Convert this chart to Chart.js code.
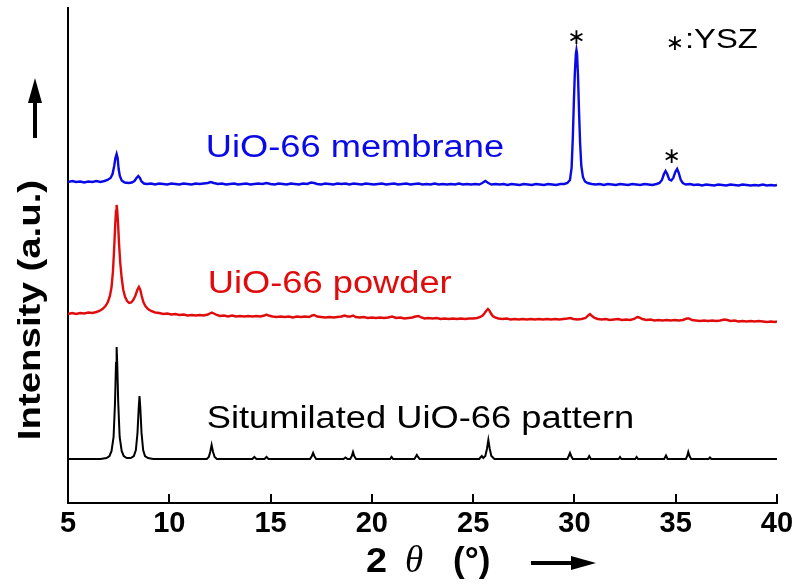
<!DOCTYPE html>
<html>
<head>
<meta charset="utf-8">
<script src="https://cdn.jsdelivr.net/npm/chart.js@4.4.0/dist/chart.umd.min.js"></script>
<style>
  html, body { margin: 0; padding: 0; background: #fff; }
  canvas { display: block; }
</style>
</head>
<body>
<canvas id="xrd" width="808" height="586"></canvas>
<script>
// 2θ axis tick values (degrees)
const twoThetaTicks = [5, 10, 15, 20, 25, 30, 35, 40];

// UiO-66 membrane on YSZ support: [2θ, intensity a.u.]
const membrane = [
  [5.0,321],[5.2,322],[5.4,321],[5.6,321.5],[5.8,320.5],[6.0,321.5],[6.2,321],[6.4,322],[6.6,321],[6.8,322],
  [6.95,323],[7.1,325],[7.2,329],[7.28,337],[7.34,345],[7.4,349],[7.45,345],[7.5,334],[7.56,327],[7.65,322.5],
  [7.8,320.5],[8.0,320],[8.15,320.5],[8.28,322],[8.38,325],[8.47,327],[8.55,325],[8.63,321.5],[8.75,319.5],[8.9,319],
  [9.1,319.5],[9.3,318.5],[9.5,319.5],[9.7,319],[9.9,318.5],[10.1,319.5],[10.3,319],[10.5,318.5],[10.7,319.5],[10.9,319],
  [11.1,318.5],[11.3,319.5],[11.5,319],[11.7,319.5],[11.9,320],[12.05,321],[12.2,320],[12.4,319],[12.6,319.5],[12.8,318.5],
  [13.0,319],[13.2,319.5],[13.4,318.5],[13.6,319],[13.8,319.5],[14.0,318.5],[14.2,319],[14.4,319.5],[14.6,319],[14.8,320],
  [15.0,319],[15.2,318.5],[15.4,319.5],[15.6,319],[15.8,318.5],[16.0,319.5],[16.2,319],[16.4,318.5],[16.6,319.5],[16.8,319],
  [17.0,320.5],[17.15,320],[17.3,319],[17.5,318.5],[17.7,319.5],[17.9,319],[18.1,318.5],[18.3,319.5],[18.5,319],[18.7,319.5],
  [18.9,318.5],[19.1,319.5],[19.3,319],[19.5,318.5],[19.7,319.5],[19.9,319],[20.1,318.5],[20.3,319],[20.5,319.5],[20.7,318.5],
  [20.9,319],[21.1,319.5],[21.3,318.5],[21.5,319],[21.7,319.5],[21.9,318.5],[22.1,319],[22.3,319.5],[22.5,318.5],[22.7,319],
  [22.9,318.5],[23.1,319.5],[23.3,318.5],[23.5,319],[23.7,318.5],[23.9,319],[24.1,318.5],[24.3,319.5],[24.5,318.5],[24.7,319],
  [24.9,318.5],[25.1,319],[25.3,318.5],[25.45,320],[25.6,322],[25.75,320],[25.9,318.5],[26.1,319],[26.3,318.5],[26.5,319],
  [26.7,318],[26.9,319],[27.1,318.5],[27.3,318],[27.5,319],[27.7,318.5],[27.9,318],[28.1,319],[28.3,318.5],[28.5,318],
  [28.7,319],[28.9,318.5],[29.1,318],[29.3,319],[29.5,319],[29.65,320],[29.78,323],[29.86,335],[29.92,365],[29.97,400],
  [30.02,430],[30.07,449],[30.1,453],[30.13,449],[30.18,425],[30.23,390],[30.28,360],[30.34,337],[30.42,326],[30.52,321.5],
  [30.65,320],[30.85,319],[31.05,318.5],[31.25,319],[31.45,318],[31.65,319],[31.85,318.5],[32.05,318],[32.25,319],[32.45,318.5],
  [32.65,318],[32.85,319],[33.05,318.5],[33.25,318],[33.45,319],[33.65,318.5],[33.85,318],[34.05,319],[34.2,320],[34.32,323],
  [34.42,329],[34.5,332],[34.58,329],[34.68,323.5],[34.78,322.5],[34.88,325],[34.98,331],[35.07,334],[35.15,330],[35.25,323],
  [35.35,320],[35.5,318.5],[35.7,319],[35.9,318],[36.1,318.5],[36.3,317.5],[36.5,318.5],[36.7,318],[36.9,317.5],[37.1,318.5],
  [37.3,318],[37.5,317.5],[37.7,318.5],[37.9,318],[38.1,317.5],[38.3,318.5],[38.5,318],[38.7,317.5],[38.9,318],[39.1,317.5],
  [39.3,318.5],[39.5,317.5],[39.7,318],[39.9,317.5],[40.0,318]
];

// UiO-66 powder: [2θ, intensity a.u.]
const powder = [
  [5.0,189],[5.2,190],[5.4,189],[5.6,190],[5.8,189.5],[6.0,190.5],[6.2,190],[6.4,191],[6.55,192],[6.7,194],
  [6.85,197],[6.97,201],[7.07,207],[7.15,216],[7.22,232],[7.28,255],[7.33,278],[7.37,292],[7.4,298],[7.43,293],
  [7.47,280],[7.52,259],[7.58,240],[7.65,225],[7.73,213],[7.82,206],[7.92,202],[8.02,200],[8.12,200.5],[8.22,203],
  [8.32,207],[8.42,213],[8.5,216],[8.57,213],[8.64,207],[8.72,201],[8.82,197],[8.95,194],[9.1,192],[9.3,190.5],
  [9.5,190],[9.7,189],[9.9,189.5],[10.1,188.5],[10.3,189],[10.5,188],[10.7,188.5],[10.9,187.5],[11.1,188],[11.3,187.5],
  [11.5,188],[11.7,187.5],[11.9,188.5],[12.0,189.5],[12.1,190.5],[12.2,189.5],[12.35,188],[12.5,187],[12.7,187.5],[12.9,186.5],
  [13.1,187.5],[13.3,186.5],[13.5,187],[13.7,186.5],[13.9,187],[14.1,186.5],[14.3,187],[14.5,186.5],[14.7,187.5],[14.8,188.5],
  [14.9,187.5],[15.1,186.5],[15.3,186],[15.5,186.5],[15.7,186],[15.9,186.5],[16.1,185.5],[16.3,186.5],[16.5,186],[16.7,186.5],
  [16.9,186],[17.05,187.5],[17.15,188],[17.3,186.5],[17.5,186],[17.7,185.5],[17.9,186],[18.1,185.5],[18.3,186],[18.5,186.5],
  [18.65,187.5],[18.8,186.5],[18.95,186.5],[19.07,187.5],[19.2,186],[19.4,185.5],[19.6,186],[19.8,185],[20.0,185.5],[20.2,185],
  [20.4,185.5],[20.6,185],[20.8,185.5],[21.0,186.5],[21.2,185],[21.4,185.5],[21.6,184.5],[21.8,185],[22.0,185.5],[22.15,186.5],
  [22.3,187],[22.45,185.5],[22.6,184.5],[22.8,185],[23.0,184.5],[23.2,185],[23.4,184],[23.6,184.5],[23.8,184],[24.0,184.5],
  [24.2,184],[24.4,184.5],[24.6,184],[24.8,184.5],[25.0,184.5],[25.2,185],[25.35,186],[25.47,187.5],[25.57,190],[25.66,192.5],
  [25.73,194],[25.8,192.5],[25.88,189.5],[25.97,187],[26.08,185.5],[26.25,184.5],[26.45,184],[26.65,184.5],[26.85,183.5],[27.05,184],
  [27.25,183.5],[27.45,184],[27.65,183.5],[27.85,184],[28.05,183.5],[28.25,184],[28.45,183.5],[28.65,184],[28.85,183.5],[29.05,184],
  [29.25,183.5],[29.45,184],[29.65,184.5],[29.8,185],[29.95,184],[30.15,183.5],[30.35,184],[30.55,185],[30.68,187.5],[30.77,189],
  [30.87,187],[31.0,185],[31.15,184],[31.35,183.5],[31.55,184],[31.75,183],[31.95,183.5],[32.15,184],[32.35,183],[32.55,183.5],
  [32.75,183],[32.95,184],[33.1,186],[33.2,185.5],[33.35,184],[33.55,183],[33.75,183.5],[33.95,182.5],[34.15,183],[34.35,182.5],
  [34.55,183],[34.75,182.5],[34.95,183],[35.15,182.5],[35.35,183],[35.55,184.5],[35.65,184.5],[35.8,183],[36.0,182.5],[36.2,182],
  [36.4,182.5],[36.6,182],[36.8,182.5],[37.0,182],[37.2,182.5],[37.4,183.5],[37.55,183],[37.7,182],[37.9,182.5],[38.1,181.5],
  [38.3,182],[38.5,181.5],[38.7,182],[38.9,181.5],[39.1,182],[39.3,181.5],[39.5,181],[39.7,181.5],[39.9,181],[40.0,181.5]
];

// Simulated UiO-66 pattern: [2θ, intensity a.u.]
const simulated = [
  [5.0,44],[6.6,44],[6.9,45],[7.05,47],[7.15,52],[7.25,66],[7.32,100],[7.37,140],[7.4,156],[7.43,140],
  [7.48,100],[7.55,66],[7.65,52],[7.75,47],[7.9,45],[8.1,45],[8.25,47],[8.35,53],[8.43,70],[8.49,95],
  [8.53,107],[8.57,95],[8.63,70],[8.71,53],[8.8,47],[8.95,45],[9.2,44],
  [11.85,44],[11.95,46],[12.02,51],[12.09,58],[12.16,51],[12.24,46],[12.35,44],
  [14.1,44],[14.2,46],[14.3,44],[14.7,44],[14.8,46],[14.9,44],
  [16.95,44],[17.04,47],[17.1,50],[17.16,47],[17.25,44],
  [18.6,44],[18.7,45.5],[18.8,44],[18.93,44],[19.01,47],[19.07,51],[19.13,47],[19.22,44],
  [20.9,44],[20.97,46],[21.05,44],[22.1,44],[22.16,46],[22.22,48],[22.28,46],[22.36,44],
  [25.3,44],[25.38,46],[25.43,47],[25.5,45],[25.6,47],[25.68,54],[25.75,63],[25.82,54],[25.9,47],[26.05,44],
  [29.65,44],[29.72,47],[29.78,50],[29.84,47],[29.92,44],[30.65,44],[30.73,47],[30.81,44],
  [32.18,44],[32.25,46],[32.32,44],[33.0,44],[33.07,46],[33.14,44],[34.43,44],[34.52,47.5],[34.6,44],
  [35.5,44],[35.57,47],[35.62,51],[35.68,47],[35.76,44],[36.62,44],[36.69,45.5],[36.76,44],[40.0,44]
];

const seriesNames = ['UiO-66 membrane', 'UiO-66 powder', 'Situmilated UiO-66 pattern'];
const seriesColors = ['#0a0ae6', '#e00c0c', '#000000'];
// 2θ positions of the YSZ support reflections (marked with ∗)
const yszPeaks = [30.1, 34.8];

const toXY = arr => arr.map(([x, y]) => ({ x, y }));

// label anchors in data coordinates [2θ, intensity]
const labelAnchors = [[11.8, 346], [11.9, 210.5], [11.85, 75]];

function stretchedText(ctx, text, x, y, font, color, sx, align) {
  ctx.save();
  ctx.translate(x, y);
  ctx.scale(sx, 1);
  ctx.font = font;
  ctx.fillStyle = color;
  ctx.textAlign = align || 'left';
  ctx.textBaseline = 'alphabetic';
  ctx.fillText(text, 0, 0);
  ctx.restore();
}

const decorations = {
  id: 'decorations',
  afterDraw(chart) {
    const { ctx, chartArea, scales } = chart;
    const xs = scales.x, ys = scales.y;
    ctx.save();

    // inward tick marks on the 2θ axis
    ctx.strokeStyle = '#000';
    ctx.lineWidth = 2;
    twoThetaTicks.forEach(v => {
      const px = Math.round(xs.getPixelForValue(v));
      ctx.beginPath();
      ctx.moveTo(px, chartArea.bottom);
      ctx.lineTo(px, chartArea.bottom - 9);
      ctx.stroke();
    });

    // series names
    seriesNames.forEach((name, i) => {
      const [ax, ay] = labelAnchors[i];
      stretchedText(ctx, name, xs.getPixelForValue(ax), ys.getPixelForValue(ay),
        '31px "Liberation Sans", Arial, sans-serif', seriesColors[i], 1.17);
    });

    // ∗ markers above the YSZ reflections of the membrane trace
    yszPeaks.forEach(p => {
      const near = membrane.filter(([x]) => Math.abs(x - p) < 0.45);
      const top = Math.max(...near.map(d => d[1]));
      ctx.font = '22px "DejaVu Sans", sans-serif';
      ctx.fillStyle = '#000';
      ctx.textAlign = 'center';
      ctx.textBaseline = 'middle';
      ctx.fillText('\u2217', xs.getPixelForValue(p), ys.getPixelForValue(top) - 12);
    });

    // key for the ∗ markers
    ctx.font = '22px "DejaVu Sans", sans-serif';
    ctx.fillStyle = '#000';
    ctx.textAlign = 'center';
    ctx.textBaseline = 'middle';
    ctx.fillText('\u2217', 675, 44);
    stretchedText(ctx, ':YSZ', 685, 48, '28px "Liberation Sans", Arial, sans-serif', '#000', 1.17);

    // y-axis title with arrow
    ctx.save();
    ctx.translate(40, 310);
    ctx.rotate(-Math.PI / 2);
    ctx.scale(1.2, 1);
    ctx.font = 'bold 32px "Liberation Sans", Arial, sans-serif';
    ctx.fillStyle = '#000';
    ctx.textAlign = 'center';
    ctx.textBaseline = 'alphabetic';
    ctx.fillText('Intensity (a.u.)', 0, 0);
    ctx.restore();
    ctx.fillStyle = '#000';
    ctx.fillRect(33, 100, 4, 38);
    ctx.beginPath();
    ctx.moveTo(35, 78);
    ctx.lineTo(42, 103);
    ctx.lineTo(28, 103);
    ctx.closePath();
    ctx.fill();

    // x-axis title: 2θ (°) with arrow
    ctx.textAlign = 'left';
    ctx.textBaseline = 'alphabetic';
    stretchedText(ctx, '2', 366, 572, 'bold 35px "Liberation Sans", Arial, sans-serif', '#000', 1.08);
    stretchedText(ctx, '\u03B8', 405, 572, 'italic 37px "Liberation Serif", "Times New Roman", serif', '#000', 1.0);
    stretchedText(ctx, '(\u00B0)', 453, 572, 'bold 35px "Liberation Sans", Arial, sans-serif', '#000', 1.0);
    ctx.fillRect(531, 561, 44, 4);
    ctx.beginPath();
    ctx.moveTo(596, 563);
    ctx.lineTo(571, 556);
    ctx.lineTo(571, 570);
    ctx.closePath();
    ctx.fill();

    ctx.restore();
  }
};

new Chart(document.getElementById('xrd'), {
  type: 'line',
  data: {
    datasets: [membrane, powder, simulated].map((d, i) => ({
      label: seriesNames[i],
      data: toXY(d),
      borderColor: seriesColors[i],
      borderWidth: i === 2 ? 2 : 2.4,
      pointRadius: 0,
      tension: 0,
      fill: false
    }))
  },
  options: {
    responsive: false,
    animation: false,
    devicePixelRatio: 1,
    layout: { padding: { left: 68, right: 31, top: 8, bottom: 0 } },
    plugins: { legend: { display: false }, tooltip: { enabled: false } },
    scales: {
      x: {
        type: 'linear',
        min: 5,
        max: 40,
        afterBuildTicks: s => { s.ticks = twoThetaTicks.map(v => ({ value: v })); },
        grid: { display: false, drawTicks: false },
        border: { display: true, color: '#000', width: 2 },
        ticks: {
          color: '#000',
          font: { family: '"Liberation Sans", Arial, sans-serif', size: 29, weight: 'bold' },
          padding: 4,
          maxRotation: 0,
          autoSkip: false
        },
        afterFit: s => { s.height = 83; }
      },
      y: {
        type: 'linear',
        min: 0,
        max: 495,
        ticks: { display: false },
        grid: { display: false, drawTicks: false },
        border: { display: true, color: '#000', width: 2 },
        afterFit: s => { s.width = 0; }
      }
    }
  },
  plugins: [decorations]
});
</script>
</body>
</html>
